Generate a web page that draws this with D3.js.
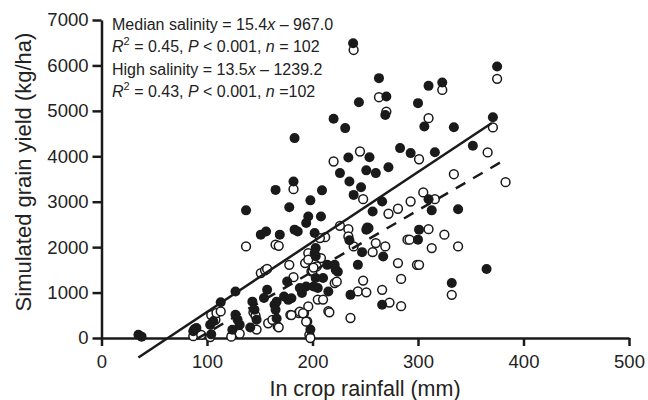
<!DOCTYPE html>
<html><head><meta charset="utf-8">
<script src="https://cdn.jsdelivr.net/npm/d3@7"></script>
<style>body{margin:0;background:#fff}svg{display:block}</style>
</head><body>
<svg id="c" width="648" height="400"></svg>
<script>
// Median salinity (filled circles): [rainfall mm, yield kg/ha]
const medianPts = [[35,70],[38,30],[87,150],[88,190],[90,220],[103,290],[106,370],[104,80],[113,785],[127,1025],[127,510],[129,400],[131,290],[124,180],[137,2810],[141,230],[143,800],[145,620],[147,400],[151,2275],[156,2345],[157,1060],[154,880],[164,730],[165,620],[166,800],[165,3260],[169,2275],[166,430],[173,915],[176,1245],[177,840],[178,2880],[182,3445],[183,4400],[183,2385],[186,2345],[180,875],[190,990],[194,1135],[188,1100],[194,2530],[196,2675],[198,3030],[198,185],[201,1135],[203,1320],[202,2310],[203,1980],[203,1800],[205,1100],[209,3250],[208,2675],[210,1320],[202,1865],[214,1610],[215,1025],[220,4825],[221,1610],[222,1500],[224,1460],[226,3630],[231,4620],[234,3975],[235,3445],[235,2150],[236,950],[238.5,6490],[239,3150],[243,1610],[244,5190],[246,3320],[247,1890],[251,2385],[252,2435],[251,3690],[254,3980],[257,2785],[260,3630],[263,5720],[266,3005],[267,1795],[266,730],[270,5315],[269,4910],[272,3760],[283,4180],[293,4070],[300,5170],[301,2385],[300,2165],[306,4655],[310,5550],[310,3055],[313,2810],[316,4090],[323,5625],[332,1210],[334,4640],[338,2835],[352,4230],[365,1520],[371,4860],[375,5975]];
// High salinity (open circles)
const highPts = [[87,40],[94.5,70],[103,20],[104,505],[108,400],[109,550],[113,585],[124,70],[131,95],[123,30],[137,2015],[144,565],[147,185],[146,490],[151,1430],[155,1490],[157,1520],[158,325],[167,255],[162,400],[168,235],[165,2055],[168,2030],[178,1610],[182,1340],[179,510],[187,550],[192,550],[195,365],[180,505],[188,580],[182,3275],[193,1650],[196,1870],[196,1725],[199,1465],[197,70],[196,695],[191,545],[194,360],[205,845],[210,845],[208,1760],[212,2220],[204,1575],[215,590],[221,1210],[223,1240],[220,3885],[226,2470],[234,2395],[234,2235],[239,2015],[236,440],[239,6340],[243,1025],[251,1005],[245,4105],[248,3055],[248,1265],[253,2420],[257,1890],[260,2090],[263,5300],[266,1060],[269,2015],[270,4985],[272,2735],[273,780],[281,2845],[281,1650],[284,1300],[284,700],[290,2165],[292,2165],[293,3005],[299,1610],[301,1610],[301,3935],[305,3205],[310,4840],[310,2395],[313,1980],[316,3055],[323,5460],[325,2275],[332,950],[334,3605],[338,2015],[366,4085],[371,4635],[375,5705],[383,3430],[198,0],[200,1480],[201,1550],[216,565],[207,2200]];
// Regression fits
const medianFit = {slope:15.4, intercept:-967.0, x0:35, x1:370};
const highFit = {slope:13.5, intercept:-1239.2, x0:90, x1:383};
const xTicks = [0,100,200,300,400,500];
const yTicks = [0,1000,2000,3000,4000,5000,6000,7000];

const svg = d3.select("#c");
const x = d3.scaleLinear().domain([0,500]).range([101.5,629]);
const y = d3.scaleLinear().domain([0,7000]).range([338,20]);
const font = "'Liberation Sans', Arial, Helvetica, sans-serif";

// axes
const xAxis = svg.append("g").attr("transform","translate(0,338)")
  .call(d3.axisBottom(x).tickValues(xTicks).tickSize(8).tickPadding(9).tickSizeOuter(0).tickFormat(d3.format("d")));
const yAxis = svg.append("g").attr("transform","translate(101.5,0)")
  .call(d3.axisLeft(y).tickValues(yTicks).tickSize(9).tickPadding(4).tickSizeOuter(0).tickFormat(d3.format("d")));
[xAxis,yAxis].forEach(g=>{
  g.selectAll("path,line").attr("stroke","#1a1a1a").attr("stroke-width",2.5);
  g.selectAll("text").attr("font-family",font).attr("font-size",18.5).attr("fill","#222");
});

// points: open first, filled on top
svg.append("g").selectAll("circle").data(highPts).join("circle")
  .attr("cx",d=>x(d[0])).attr("cy",d=>y(d[1])).attr("r",4.4)
  .attr("fill","#fff").attr("stroke","#1a1a1a").attr("stroke-width",1.5);
svg.append("g").selectAll("circle").data(medianPts).join("circle")
  .attr("cx",d=>x(d[0])).attr("cy",d=>y(d[1])).attr("r",5)
  .attr("fill","#1a1a1a");

// regression lines
function fitLine(f, dash){
  const pts=[f.x0,f.x1].map(v=>[v,f.slope*v+f.intercept]);
  svg.append("path").datum(pts)
    .attr("d",d3.line().x(d=>x(d[0])).y(d=>y(d[1])))
    .attr("stroke","#1a1a1a").attr("stroke-width",2.5).attr("fill","none")
    .attr("stroke-dasharray",dash||null);
}
fitLine(medianFit);
fitLine(highFit,"11,9");

// axis titles
svg.append("text").attr("x",365).attr("y",396).attr("text-anchor","middle")
  .attr("font-family",font).attr("font-size",21.5).attr("fill","#222").text("In crop rainfall (mm)");
svg.append("text").attr("transform","translate(31,172) rotate(-90)").attr("text-anchor","middle")
  .attr("font-family",font).attr("font-size",22).attr("fill","#222").text("Simulated grain yield (kg/ha)");

// annotation
const ann = [
  [["Median salinity = 15.4",0],["x",1],[" – 967.0",0]],
  [["R",1],["2",2],[" = 0.45, ",0],["P",1],[" < 0.001, ",0],["n",1],[" = 102",0]],
  [["High salinity = 13.5",0],["x",1],[" – 1239.2",0]],
  [["R",1],["2",2],[" = 0.43, ",0],["P",1],[" < 0.001, ",0],["n",1],[" =102",0]]
];
const baselines=[29.5,52,74.5,97];
ann.forEach((line,i)=>{
  const t=svg.append("text").attr("x",112).attr("y",baselines[i])
    .attr("font-family",font).attr("font-size",16).attr("fill","#222");
  line.forEach(([s,k],j)=>{
    const ts=t.append("tspan").text(s);
    if(k===1) ts.attr("font-style","italic");
    if(k===2) ts.attr("font-size",11).attr("dy",-7);
    if(j>0 && line[j-1][1]===2) ts.attr("dy",7);
  });
});
</script>
</body></html>
